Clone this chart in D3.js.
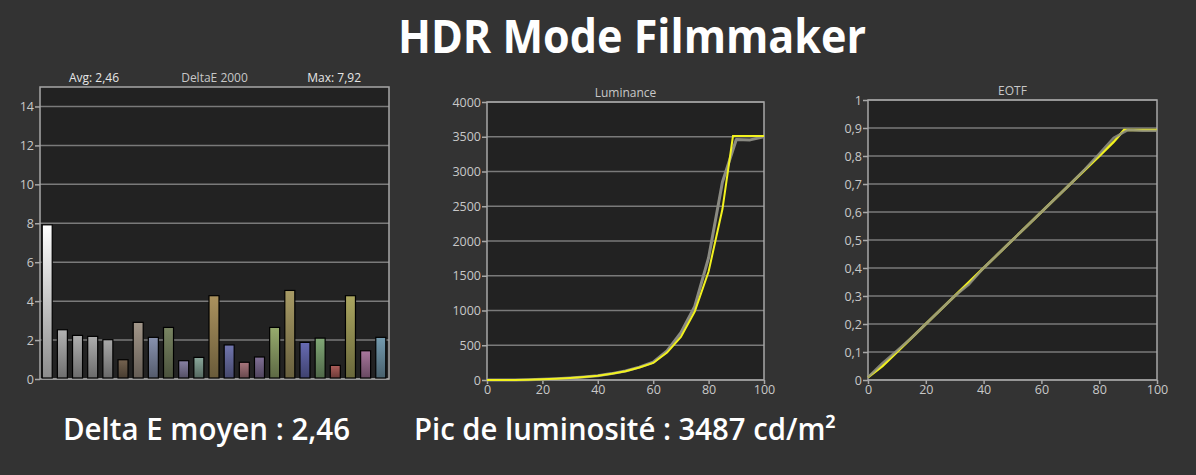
<!DOCTYPE html>
<html>
<head>
<meta charset="utf-8">
<script src="https://cdn.jsdelivr.net/npm/d3@7"></script>
<style>
  body { margin: 0; background: #333333; }
  svg { display: block; }
</style>
</head>
<body>
<div id="chart"></div>
<script>

// DeltaE 2000 per patch
var deltaE = [7.92, 2.53, 2.24, 2.19, 2.02, 0.99, 2.91, 2.14, 2.65, 0.94, 1.11, 4.28,
              1.75, 0.86, 1.13, 2.65, 4.55, 1.88, 2.10, 0.70, 4.28, 1.45, 2.14];
var patchColors = ["#ffffff", "#a4a4a4", "#a0a0a0", "#9e9e9e", "#9a9a9a", "#6a5a48", "#958a7e",
                   "#7c86a0", "#6f7a5a", "#7c7696", "#7e9a8e", "#9c8656", "#676ca0", "#9a6c72",
                   "#76668a", "#8a9c64", "#9a8e5c", "#5e62a4", "#769a6c", "#9e5652", "#9c9858",
                   "#9a6c90", "#6a8ea0"];

// luminance (cd/m2) vs stimulus %
var lumTargetX = [0, 5, 10, 15, 20, 25, 30, 35, 40, 45, 50, 55, 60, 65, 70, 75, 80, 85, 88.8, 90, 95, 100];
var lumTargetY = [0, 0.3, 1.5, 4, 10, 18, 28, 42, 60, 90, 125, 180, 245, 395, 620, 985, 1560, 2460, 3510, 3510, 3510, 3510];
var lumMeasX = [0, 5, 10, 15, 20, 25, 30, 35, 40, 45, 50, 55, 60, 65, 70, 75, 80, 85, 90, 95, 100];
var lumMeasY = [0, 0.3, 1.5, 4, 10, 18, 29, 44, 62, 92, 130, 185, 255, 420, 680, 1060, 1760, 2850, 3460, 3455, 3500];

// EOTF (normalised) vs stimulus %
var eotfTargetX = [0, 5, 10, 15, 20, 25, 30, 35, 40, 45, 50, 55, 60, 65, 70, 75, 80, 85, 88.6, 90, 95, 100];
var eotfTargetY = [0.01, 0.05, 0.1, 0.15, 0.2, 0.25, 0.3, 0.35, 0.4, 0.45, 0.5, 0.55, 0.6, 0.65, 0.7, 0.75, 0.8, 0.85, 0.893, 0.893, 0.893, 0.893];
var eotfMeasX = [0, 5, 10, 15, 20, 25, 30, 35, 40, 45, 50, 55, 60, 65, 70, 75, 80, 85, 90, 95, 100];
var eotfMeasY = [0.01, 0.06, 0.105, 0.15, 0.2, 0.25, 0.3, 0.342, 0.4, 0.45, 0.5, 0.55, 0.6, 0.65, 0.7, 0.752, 0.808, 0.865, 0.893, 0.89, 0.89];

var deTicks = [0, 2, 4, 6, 8, 10, 12, 14];
var lumTicks = [0, 500, 1000, 1500, 2000, 2500, 3000, 3500, 4000];
var eotfTicks = [0, 0.1, 0.2, 0.3, 0.4, 0.5, 0.6, 0.7, 0.8, 0.9, 1];
var xTicks = [0, 20, 40, 60, 80, 100];

var W = 1196, H = 475;
var fmtComma = function(v) { return String(v).replace(".", ","); };

var svg = d3.select("#chart").append("svg")
    .attr("width", W)
    .attr("height", H)
    .style("font-family", "'Open Sans', sans-serif");

svg.append("rect").attr("width", W).attr("height", H).attr("fill", "#333333");

var defs = svg.append("defs");

// big title + captions
svg.append("text")
    .attr("x", 398).attr("y", 53)
    .attr("textLength", 468).attr("lengthAdjust", "spacingAndGlyphs")
    .attr("fill", "#ffffff")
    .style("font-size", "47px").style("font-weight", 700)
    .text("HDR Mode Filmmaker");

svg.append("text")
    .attr("x", 63).attr("y", 440)
    .attr("textLength", 287).attr("lengthAdjust", "spacingAndGlyphs")
    .attr("fill", "#ffffff")
    .style("font-size", "30px").style("font-weight", 600)
    .text("Delta E moyen : 2,46");

svg.append("text")
    .attr("x", 414).attr("y", 440)
    .attr("textLength", 422).attr("lengthAdjust", "spacingAndGlyphs")
    .attr("fill", "#ffffff")
    .style("font-size", "30px").style("font-weight", 600)
    .text("Pic de luminosité : 3487 cd/m²");

// generic panel: frame, grid, y axis
function panel(box, yDomain, yTicks, yFmt, title) {
  var g = svg.append("g");
  var x = d3.scaleLinear().domain([0, 100]).range([box.x0, box.x1]);
  var y = d3.scaleLinear().domain(yDomain).range([box.y1, box.y0]);

  g.append("rect")
      .attr("x", box.x0).attr("y", box.y0)
      .attr("width", box.x1 - box.x0).attr("height", box.y1 - box.y0)
      .attr("fill", "#222222");

  g.selectAll("line.grid").data(yTicks).enter().append("line")
      .attr("class", "grid")
      .attr("x1", box.x0).attr("x2", box.x1)
      .attr("y1", function(d) { return y(d); }).attr("y2", function(d) { return y(d); })
      .attr("stroke", "#7a7a7a").attr("stroke-width", 1.5);

  var yAxis = g.append("g")
      .attr("transform", "translate(" + box.x0 + ",0)")
      .call(d3.axisLeft(y).tickValues(yTicks).tickFormat(yFmt).tickSize(5).tickPadding(1));
  yAxis.select(".domain").remove();
  yAxis.selectAll("line").attr("stroke", "#a8a8a8").attr("stroke-width", 1.5);
  yAxis.selectAll("text").attr("fill", "#c8c8c8").style("font-size", "12.5px")
      .style("font-family", "'Open Sans', sans-serif");

  g.append("rect")
      .attr("x", box.x0).attr("y", box.y0)
      .attr("width", box.x1 - box.x0).attr("height", box.y1 - box.y0)
      .attr("fill", "none").attr("stroke", "#a8a8a8").attr("stroke-width", 1.5);

  g.append("text")
      .attr("x", (box.x0 + box.x1) / 2).attr("y", box.y0 - 5)
      .attr("text-anchor", "middle")
      .attr("fill", "#c8c8c8")
      .style("font-size", "12px")
      .text(title);

  return { g: g, x: x, y: y };
}

function xAxis(p, box) {
  var ax = p.g.append("g")
      .attr("transform", "translate(0," + box.y1 + ")")
      .call(d3.axisBottom(p.x).tickValues(xTicks).tickSize(4).tickPadding(1));
  ax.select(".domain").remove();
  ax.selectAll("line").attr("stroke", "#a8a8a8").attr("stroke-width", 1.5);
  ax.selectAll("text").attr("fill", "#c8c8c8").style("font-size", "12.5px")
      .style("font-family", "'Open Sans', sans-serif");
}

// ---- DeltaE bars
var deBox = { x0: 40, x1: 389, y0: 87, y1: 379 };
var de = panel(deBox, [0, 15], deTicks, d3.format("d"), "DeltaE 2000");

de.g.append("text").attr("x", 69).attr("y", deBox.y0 - 5)
    .attr("fill", "#e6e6e6").style("font-size", "12px").text("Avg: 2,46");
de.g.append("text").attr("x", 361).attr("y", deBox.y0 - 5).attr("text-anchor", "end")
    .attr("fill", "#e6e6e6").style("font-size", "12px").text("Max: 7,92");

var xb = d3.scaleBand().domain(d3.range(deltaE.length))
    .range([deBox.x0 + 1, deBox.x1 - 2]).paddingInner(0.34).paddingOuter(0.08);

patchColors.forEach(function(c, i) {
  var gr = defs.append("linearGradient").attr("id", "bar" + i)
      .attr("x1", 0).attr("y1", 0).attr("x2", 0).attr("y2", 1);
  var top = i === 0 ? "#ffffff" : d3.color(c).brighter(0.25);
  var bot = i === 0 ? "#8c8c8c" : d3.color(c).darker(1.1);
  gr.append("stop").attr("offset", "0%").attr("stop-color", top);
  gr.append("stop").attr("offset", "100%").attr("stop-color", bot);
});

de.g.selectAll("rect.bar").data(deltaE).enter().append("rect")
    .attr("class", "bar")
    .attr("x", function(d, i) { return xb(i); })
    .attr("width", xb.bandwidth())
    .attr("y", function(d) { return de.y(d); })
    .attr("height", function(d) { return deBox.y1 - 1 - de.y(d); })
    .attr("fill", function(d, i) { return "url(#bar" + i + ")"; })
    .attr("stroke", "#000000").attr("stroke-width", 1.2);

// ---- Luminance
var lumBox = { x0: 487, x1: 764, y0: 102, y1: 380 };
var lum = panel(lumBox, [0, 4000], lumTicks, d3.format("d"), "Luminance");
xAxis(lum, lumBox);

var lumLine = d3.line().x(function(d) { return lum.x(d[0]); }).y(function(d) { return lum.y(d[1]); });
lum.g.append("path")
    .attr("d", lumLine(d3.zip(lumMeasX, lumMeasY)))
    .attr("fill", "none").attr("stroke", "#8a8a82").attr("stroke-width", 3).attr("stroke-linejoin", "round");
lum.g.append("path")
    .attr("d", lumLine(d3.zip(lumTargetX, lumTargetY)))
    .attr("fill", "none").attr("stroke", "#f2f21e").attr("stroke-width", 2);

// ---- EOTF
var eoBox = { x0: 868, x1: 1157, y0: 100, y1: 380 };
var eo = panel(eoBox, [0, 1], eotfTicks, fmtComma, "EOTF");
xAxis(eo, eoBox);

var eoLine = d3.line().x(function(d) { return eo.x(d[0]); }).y(function(d) { return eo.y(d[1]); });
eo.g.append("path")
    .attr("d", eoLine(d3.zip(eotfTargetX, eotfTargetY)))
    .attr("fill", "none").attr("stroke", "#f2f21e").attr("stroke-width", 2.5);
eo.g.append("path")
    .attr("d", eoLine(d3.zip(eotfMeasX, eotfMeasY)))
    .attr("fill", "none").attr("stroke", "#8f8f82").attr("stroke-width", 2.5)
    .attr("stroke-opacity", 0.85).attr("stroke-linejoin", "round");

</script>
</body>
</html>
